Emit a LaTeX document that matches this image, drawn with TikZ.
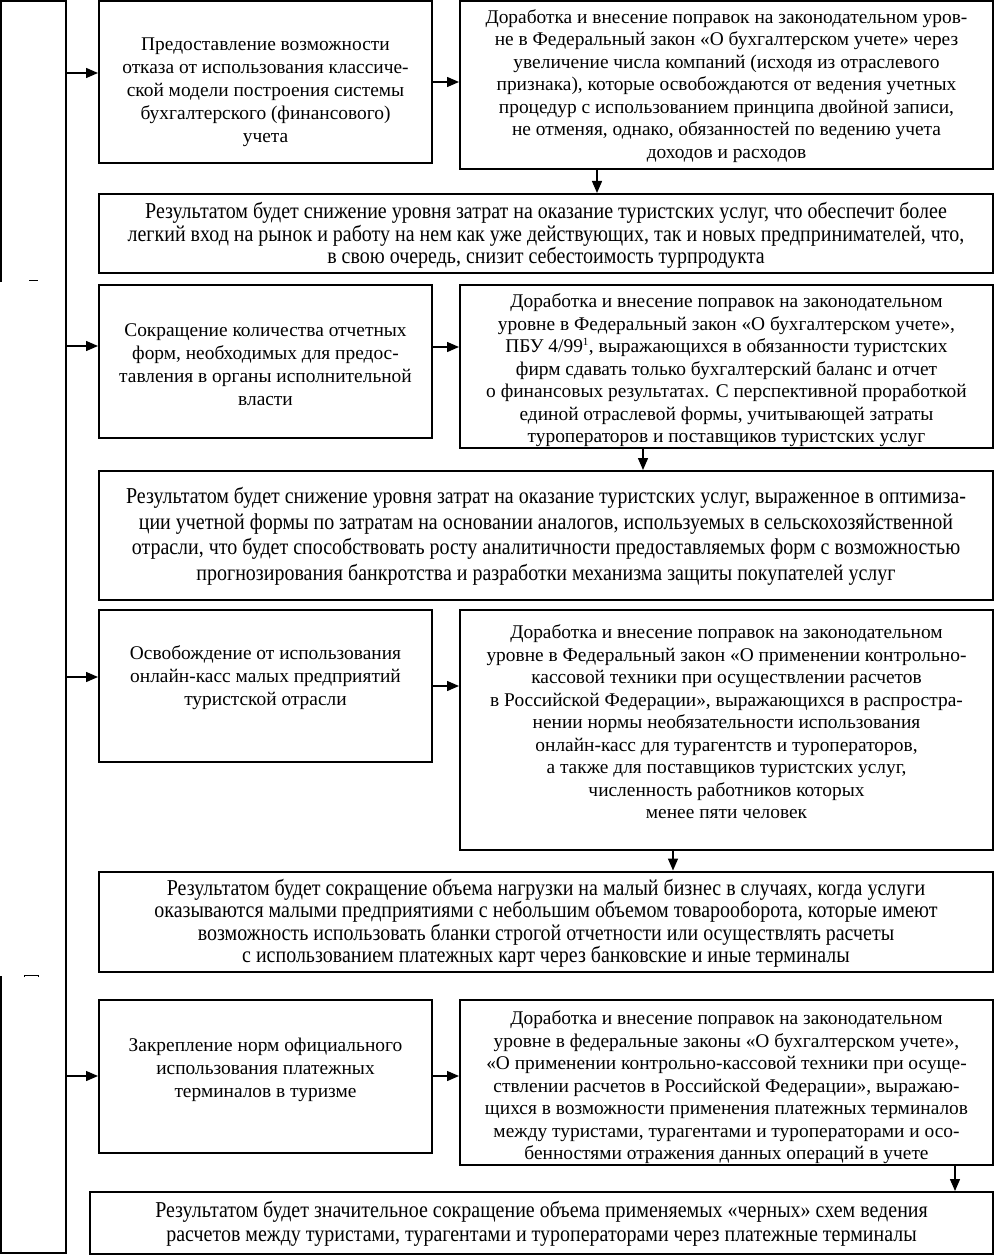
\documentclass[tikz,border=0pt]{standalone}
\usepackage{fontspec}
\setmainfont{Liberation Serif}
\newfontfamily\condfont[FakeStretch=0.88]{Liberation Serif}
\usetikzlibrary{arrows.meta}
\tikzset{
  box/.style={draw, line width=2pt, rectangle, inner sep=0pt},
  ltxt/.style={align=center, inner sep=0pt, font=\fontsize{19.4}{23}\selectfont},
  rtxt/.style={align=center, inner sep=0pt, font=\fontsize{19.4}{22.5}\selectfont},
  ctxt/.style={align=center, inner sep=0pt, font=\condfont\fontsize{22.7}{22.5}\selectfont},
  arr/.style={line width=1.4pt, -{Triangle[length=12pt,width=10pt]}},
  spine/.style={line width=1.5pt}
}
\begin{document}
\begin{tikzpicture}[x=1pt,y=-1pt]
\useasboundingbox (0,0) rectangle (995,1257);
% left frame
\node (L) [minimum width=65pt, minimum height=1252pt, inner sep=0pt] at (33.5,627) {};
\draw[spine] (L.north west |- 0,282) -- (L.north west) -- (L.north east) -- (L.south east) -- (L.south west) -- (L.south west |- 0,976);
\draw[line width=1pt] (29,280) -- (38,280);
\draw[line width=1pt] (24,977) -- (24,975) -- (38,975) -- (38,977);
% row A
\node (A1) [box, minimum width=333pt, minimum height=162pt] at (265.5,82) {};
\node (A1t) [ltxt] at ([yshift=-10pt]A1.center)
  {Предоставление возможности\\отказа от использования классиче-\\ской модели построения системы\\бухгалтерского (финансового)\\учета};
\node (A2) [box, minimum width=533pt, minimum height=168pt] at (726.5,85) {};
\node (A2t) [rtxt] at ([yshift=-1pt]A2.center)
  {Доработка и внесение поправок на законодательном уров-\\не в Федеральный закон «О бухгалтерском учете» через\\увеличение числа компаний (исходя из отраслевого\\признака), которые освобождаются от ведения учетных\\процедур с использованием принципа двойной записи,\\не отменяя, однако, обязанностей по ведению учета\\доходов и расходов};
\node (R1) [box, minimum width=894pt, minimum height=79pt] at (546,233.5) {};
\node (R1t) [ctxt] at ([yshift=-2pt]R1.center)
  {Результатом будет снижение уровня затрат на оказание туристских услуг, что обеспечит более\\легкий вход на рынок и работу на нем как уже действующих, так и новых предпринимателей, что,\\в свою очередь, снизит себестоимость турпродукта};
% row B
\node (B1) [box, minimum width=333pt, minimum height=153pt] at (265.5,361.5) {};
\node (B1t) [ltxt] at ([yshift=-3pt]B1.center)
  {Сокращение количества отчетных\\форм, необходимых для предос-\\тавления в органы исполнительной\\власти};
\node (B2) [box, minimum width=533pt, minimum height=163pt] at (726.5,366.5) {};
\node (B2t) [rtxt] at ([yshift=-4pt]B2.center)
  {Доработка и внесение поправок на законодательном\\уровне в Федеральный закон «О бухгалтерском учете»,\\ПБУ 4/99\textsuperscript{\fontsize{11}{11}\selectfont 1}, выражающихся в обязанности туристских\\фирм сдавать только бухгалтерский баланс и отчет\\о финансовых результатах. С перспективной проработкой\\единой отраслевой формы, учитывающей затраты\\туроператоров и поставщиков туристских услуг};
\node (R2) [box, minimum width=894pt, minimum height=129pt] at (546,535.5) {};
\node (R2t) [ctxt, font=\condfont\fontsize{22.7}{25.5}\selectfont] at ([yshift=-1pt]R2.center)
  {Результатом будет снижение уровня затрат на оказание туристских услуг, выраженное в оптимиза-\\ции учетной формы по затратам на основании аналогов, используемых в сельскохозяйственной\\отрасли, что будет способствовать росту аналитичности предоставляемых форм с возможностью\\прогнозирования банкротства и разработки механизма защиты покупателей услуг};
% row C
\node (C1) [box, minimum width=333pt, minimum height=152pt] at (265.5,686) {};
\node (C1t) [ltxt] at ([yshift=8pt]C1.center)
  {Освобождение от использования\\онлайн-касс малых предприятий\\туристской отрасли};
\node (C2) [box, minimum width=533pt, minimum height=240pt] at (726.5,730) {};
\node (C2t) [rtxt] at ([yshift=8pt]C2.center)
  {Доработка и внесение поправок на законодательном\\уровне в Федеральный закон «О применении контрольно-\\кассовой техники при осуществлении расчетов\\в Российской Федерации», выражающихся в распростра-\\нении нормы необязательности использования\\онлайн-касс для турагентств и туроператоров,\\а также для поставщиков туристских услуг,\\численность работников которых\\менее пяти человек};
\node (R3) [box, minimum width=894pt, minimum height=100pt] at (546,921.5) {};
\node (R3t) [ctxt] at ([yshift=-2pt]R3.center)
  {Результатом будет сокращение объема нагрузки на малый бизнес в случаях, когда услуги\\оказываются малыми предприятиями с небольшим объемом товарооборота, которые имеют\\возможность использовать бланки строгой отчетности или осуществлять расчеты\\с использованием платежных карт через банковские и иные терминалы};
% row D
\node (D1) [box, minimum width=333pt, minimum height=153pt] at (265.5,1076.5) {};
\node (D1t) [ltxt] at ([yshift=7pt]D1.center)
  {Закрепление норм официального\\использования платежных\\терминалов в туризме};
\node (D2) [box, minimum width=533pt, minimum height=165pt] at (726.5,1082.5) {};
\node (D2t) [rtxt] at ([yshift=-5pt]D2.center)
  {Доработка и внесение поправок на законодательном\\уровне в федеральные законы «О бухгалтерском учете»,\\«О применении контрольно-кассовой техники при осуще-\\ствлении расчетов в Российской Федерации», выражаю-\\щихся в возможности применения платежных терминалов\\между туристами, турагентами и туроператорами и осо-\\бенностями отражения данных операций в учете};
\node (R4) [box, minimum width=903pt, minimum height=62pt] at (541.5,1223) {};
\node (R4t) [ctxt, font=\condfont\fontsize{22.7}{24}\selectfont] at ([yshift=-1pt]R4.center)
  {Результатом будет значительное сокращение объема применяемых «черных» схем ведения\\расчетов между туристами, турагентами и туроператорами через платежные терминалы};
% arrows from spine
\draw[arr] (L.east |- 0,73) -- (A1.west |- 0,73);
\draw[arr] (L.east |- 0,346) -- (B1.west |- 0,346);
\draw[arr] (L.east |- 0,677) -- (C1.west |- 0,677);
\draw[arr] (L.east |- 0,1076) -- (D1.west |- 0,1076);
% horizontal arrows
\draw[arr] (A1.east |- 0,82) -- (A2.west |- 0,82);
\draw[arr] (B1.east |- 0,347) -- (B2.west |- 0,347);
\draw[arr] (C1.east |- 0,686) -- (C2.west |- 0,686);
\draw[arr] (D1.east |- 0,1076) -- (D2.west |- 0,1076);
% down arrows
\draw[arr] (A2.south -| 597,0) -- (R1.north -| 597,0);
\draw[arr] (B2.south -| 643,0) -- (R2.north -| 643,0);
\draw[arr] (C2.south -| 673,0) -- (R3.north -| 673,0);
\draw[arr] (D2.south -| 955,0) -- (R4.north -| 955,0);
\end{tikzpicture}
\end{document}
